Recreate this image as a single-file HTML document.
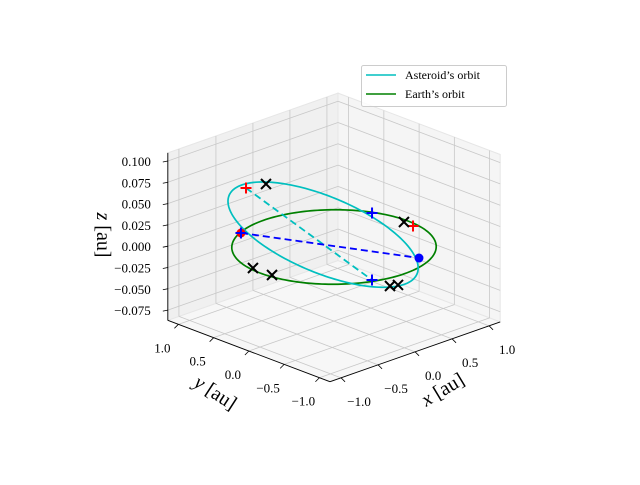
<!DOCTYPE html>
<html><head><meta charset="utf-8"><style>
body{margin:0;background:#fff}
svg text{font-family:"Liberation Serif",serif;fill:#000}
</style></head><body>
<svg id="c" width="640" height="480" viewBox="0 0 640 480" xmlns="http://www.w3.org/2000/svg">
<g id="panes"></g>
<g id="grid"></g>
<g id="axes"></g>
<g id="series"></g>
<g id="legend">
<rect x="361.5" y="65.5" width="145" height="41" rx="2" fill="#fff" fill-opacity="0.8" stroke="#cccccc"/>
<line x1="366" y1="75" x2="396" y2="75" stroke="#00bfbf" stroke-width="1.5"/>
<text x="405" y="79" font-size="12">Asteroid’s orbit</text>
<line x1="366" y1="94" x2="396" y2="94" stroke="#008000" stroke-width="1.5"/>
<text x="405" y="98" font-size="12">Earth’s orbit</text>
</g>
</svg>
<script>
const xTicks=[-1,-0.5,0,0.5,1];
const yTicks=[-1,-0.5,0,0.5,1];
const zTicks=[-0.075,-0.05,-0.025,0,0.025,0.05,0.075,0.1];
const zTickLabels=["−0.075","−0.050","−0.025","0.000","0.025","0.050","0.075","0.100"];
const xyTickLabels=["−1.0","−0.5","0.0","0.5","1.0"];
const earthRadius=1.0;
const asteroidCenter=[-0.1,0.05,0.016];
const asteroidU=[0.645,-0.628,-0.05];
const asteroidV=[-0.742,-0.438,0.0];
const blackX=[[-0.336,0.612,0.065],[0.953,0.008,0],[-0.957,0.145,0],[-0.953,-0.121,0],[0.144,-0.643,-0.03],[0.219,-0.678,-0.03]];
const redPlus=[[-0.565,0.655,0.066],[0.943,-0.131,0],[-0.393,0.907,0]];
const bluePlus=[[-0.393,0.907,0],[0.896,0.401,0],[-0.344,-0.9,0]];
const redDot=[[-0.393,0.907,0]];
const blueDot=[[0.392,-0.794,0]];
const cyanDash=[[-0.565,0.655,0.066],[-0.344,-0.9,0]];
const blueDash=[[-0.393,0.907,0],[0.392,-0.794,0]];
const L=1.15, ZMIN=-0.087, ZMAX=0.1095;
function P(x,y,z){return [334+74*x-70.5*y, 247-26*x-26.7*y-852*z];}
const NS="http://www.w3.org/2000/svg";
function mk(parent,tag,attrs){const e=document.createElementNS(NS,tag);for(const k in attrs)e.setAttribute(k,attrs[k]);parent.appendChild(e);return e;}
function poly(pts){return pts.map(p=>{const q=P(...p);return q[0].toFixed(1)+","+q[1].toFixed(1);}).join(" ");}
const panes=document.getElementById('panes'),grid=document.getElementById('grid'),axes=document.getElementById('axes'),series=document.getElementById('series');
let e;
e=mk(panes,'polygon',{points:poly([[-L,-L,ZMIN],[L,-L,ZMIN],[L,L,ZMIN],[-L,L,ZMIN]]),fill:'#f7f7f7',stroke:'#ececec'});

e=mk(panes,'polygon',{points:poly([[-L,L,ZMIN],[L,L,ZMIN],[L,L,ZMAX],[-L,L,ZMAX]]),fill:'#f0f0f0',stroke:'#e6e6e6'});

e=mk(panes,'polygon',{points:poly([[L,L,ZMIN],[L,-L,ZMIN],[L,-L,ZMAX],[L,L,ZMAX]]),fill:'#f5f5f5',stroke:'#e6e6e6'});

const gs={stroke:'#c8c8c8','stroke-width':0.8,fill:'none'};
function gl(a,b){const p=P(...a),q=P(...b);const l=mk(grid,'line',Object.assign({x1:p[0],y1:p[1],x2:q[0],y2:q[1]},gs));}
xTicks.forEach(x=>{gl([x,-L,ZMIN],[x,L,ZMIN]);gl([x,L,ZMIN],[x,L,ZMAX]);});
yTicks.forEach(y=>{gl([-L,y,ZMIN],[L,y,ZMIN]);gl([L,y,ZMIN],[L,y,ZMAX]);});
zTicks.forEach(z=>{gl([-L,L,z],[L,L,z]);gl([L,L,z],[L,-L,z]);});
function al(a,b,name){const p=P(...a),q=P(...b);const l=mk(axes,'line',{x1:p[0],y1:p[1],x2:q[0],y2:q[1],stroke:'#000','stroke-width':0.9});}
al([-L,L,ZMIN],[-L,L,ZMAX],'z-axis-line');
al([-L,L,ZMIN],[-L,-L,ZMIN],'y-axis-line');
al([-L,-L,ZMIN],[L,-L,ZMIN],'x-axis-line');
zTicks.forEach((z,i)=>{const p=P(-L,L,z);
 const t=mk(axes,'line',{x1:p[0]-5,y1:p[1]+1,x2:p[0],y2:p[1],stroke:'#000','stroke-width':0.8});
 const tx=mk(axes,'text',{x:p[0]-17,y:p[1]+5,'font-size':13,'text-anchor':'end'});tx.textContent=zTickLabels[i];});
yTicks.forEach((y,i)=>{const p=P(-L,y,ZMIN);
 const t=mk(axes,'line',{x1:p[0],y1:p[1],x2:p[0]-4,y2:p[1]+4,stroke:'#000','stroke-width':0.8});
 const tx=mk(axes,'text',{x:p[0]-16,y:p[1]+28,'font-size':13,'text-anchor':'middle'});tx.textContent=xyTickLabels[i];});
xTicks.forEach((x,i)=>{const p=P(x,-L,ZMIN);
 const t=mk(axes,'line',{x1:p[0],y1:p[1],x2:p[0]+4,y2:p[1]+4,stroke:'#000','stroke-width':0.8});
 const tx=mk(axes,'text',{x:p[0]+18,y:p[1]+28,'font-size':13,'text-anchor':'middle'});tx.textContent=xyTickLabels[i];});
let lab=mk(axes,'text',{x:0,y:0,'font-size':20,'text-anchor':'middle',transform:'translate(212,398) rotate(33)'});lab.innerHTML='<tspan font-style="italic">y</tspan> [au]';

lab=mk(axes,'text',{x:0,y:0,'font-size':20,'text-anchor':'middle',transform:'translate(446,395) rotate(-31)'});lab.innerHTML='<tspan font-style="italic">x</tspan> [au]';

lab=mk(axes,'text',{x:0,y:0,'font-size':20,'text-anchor':'middle',transform:'translate(97,235) rotate(90)'});lab.innerHTML='<tspan font-style="italic">z</tspan> [au]';

let pe=[],pa=[];
for(let k=0;k<=200;k++){const t=2*Math.PI*k/200;
 pe.push(P(earthRadius*Math.cos(t),earthRadius*Math.sin(t),0));
 pa.push(P(...[0,1,2].map(j=>asteroidCenter[j]+asteroidU[j]*Math.cos(t)+asteroidV[j]*Math.sin(t))));}
const earth=mk(series,'polyline',{points:pe.map(p=>p.join(',')).join(' '),fill:'none',stroke:'#008000','stroke-width':1.7});

const ast=mk(series,'polyline',{points:pa.map(p=>p.join(',')).join(' '),fill:'none',stroke:'#00bfbf','stroke-width':1.7});

let d=mk(series,'polyline',{points:poly(cyanDash),fill:'none',stroke:'#00bfbf','stroke-width':1.8,'stroke-dasharray':'7,4'});

d=mk(series,'polyline',{points:poly(blueDash),fill:'none',stroke:'#0000ff','stroke-width':1.8,'stroke-dasharray':'7,4'});

redDot.forEach(p=>{const q=P(...p);const c=mk(series,'circle',{cx:q[0],cy:q[1],r:4.5,fill:'#ff0000'});});
blueDot.forEach(p=>{const q=P(...p);const c=mk(series,'circle',{cx:q[0],cy:q[1],r:4.5,fill:'#0000ff'});});
function plus(p,col,name){const q=P(...p),s=5.5;const g=mk(series,'path',{d:`M${q[0]-s},${q[1]}H${q[0]+s}M${q[0]},${q[1]-s}V${q[1]+s}`,stroke:col,'stroke-width':2});}
function cross(p){const q=P(...p),s=5;const g=mk(series,'path',{d:`M${q[0]-s},${q[1]-s}L${q[0]+s},${q[1]+s}M${q[0]-s},${q[1]+s}L${q[0]+s},${q[1]-s}`,stroke:'#000','stroke-width':2});}
redPlus.forEach(p=>plus(p,'#ff0000','red-plus-marker'));
bluePlus.forEach(p=>plus(p,'#0000ff','blue-plus-marker'));
blackX.forEach(cross);
</script>
</body></html>
